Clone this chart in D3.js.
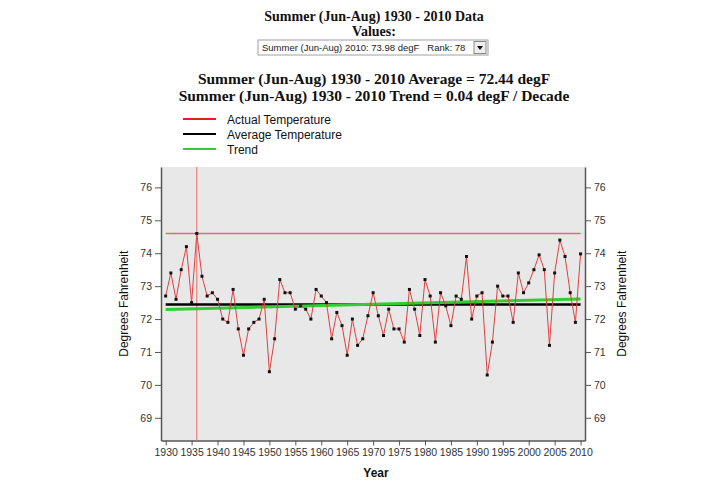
<!DOCTYPE html>
<html>
<head>
<meta charset="utf-8">
<script src="https://cdn.jsdelivr.net/npm/d3@7"></script>
<style>
  body { margin: 0; background: #fff; }
  svg text { font-family: "Liberation Sans", Arial, sans-serif; }
  .serif { font-family: "Liberation Serif", "DejaVu Serif", serif !important; font-weight: bold; fill: #111; }
</style>
</head>
<body>
<div id="chart"></div>
<script>
// Summer (Jun-Aug) mean temperature, degF
const years = d3.range(1930, 2011);
const temps = [
  72.7, 73.4, 72.6, 73.5, 74.2, 72.5, 74.6, 73.3, 72.7, 72.8,
  72.6, 72.0, 71.9, 72.9, 71.7, 70.9, 71.7, 71.9, 72.0, 72.6,
  70.4, 71.4, 73.2, 72.8, 72.8, 72.3, 72.4, 72.3, 72.0, 72.9,
  72.7, 72.5, 71.4, 72.2, 71.8, 70.9, 72.0, 71.2, 71.4, 72.1,
  72.8, 72.1, 71.5, 72.3, 71.7, 71.7, 71.3, 72.9, 72.3, 71.5,
  73.2, 72.7, 71.3, 72.8, 72.4, 71.8, 72.7, 72.6, 73.9, 72.0,
  72.7, 72.8, 70.3, 71.3, 73.0, 72.7, 72.7, 71.9, 73.4, 72.8,
  73.1, 73.5, 73.95, 73.5, 71.2, 73.4, 74.4, 73.9, 72.8, 71.9,
  73.98
];
const average = 72.44;
const trendEnds = [72.29, 72.61];   // trend line value at 1930 and 2010
const yTicks = [69, 70, 71, 72, 73, 74, 75, 76];
const xTicks = d3.range(1930, 2011, 5);
const legendItems = [
  { name: 'Actual Temperature', color: '#e02020' },
  { name: 'Average Temperature', color: '#000' },
  { name: 'Trend', color: '#33cc33' }
];

const W = 720, H = 486;
const plot = { left: 161, right: 585, top: 167, bottom: 440.5 };

const svg = d3.select('#chart').append('svg')
  .attr('width', W).attr('height', H);

// Titles
svg.append('text').attr('class', 'serif')
  .attr('x', 374).attr('y', 21).attr('text-anchor', 'middle')
  .style('font-size', '14px')
  .text('Summer (Jun-Aug) 1930 - 2010 Data');
svg.append('text').attr('class', 'serif')
  .attr('x', 374).attr('y', 36).attr('text-anchor', 'middle')
  .style('font-size', '14px')
  .text('Values:');

// Fake dropdown
const dd = svg.append('g').attr('transform', 'translate(258,40)');
dd.append('rect').attr('width', 230).attr('height', 15)
  .attr('fill', '#fff').attr('stroke', '#a0a0a0');
dd.append('text').attr('x', 4).attr('y', 11)
  .style('font-size', '9.5px').style('white-space', 'pre').attr('fill', '#222')
  .text('Summer (Jun-Aug) 2010: 73.98 degF   Rank: 78');
dd.append('rect').attr('x', 216).attr('y', 1.5).attr('width', 12).attr('height', 12)
  .attr('fill', '#eee').attr('stroke', '#888');
dd.append('path').attr('d', 'M219,6 L225,6 L222,10 Z').attr('fill', '#111');

svg.append('text').attr('class', 'serif')
  .attr('x', 374).attr('y', 84).attr('text-anchor', 'middle')
  .style('font-size', '15.5px')
  .text(`Summer (Jun-Aug) 1930 - 2010 Average = ${average} degF`);
svg.append('text').attr('class', 'serif')
  .attr('x', 374).attr('y', 101).attr('text-anchor', 'middle')
  .style('font-size', '15.5px')
  .text('Summer (Jun-Aug) 1930 - 2010 Trend = 0.04 degF / Decade');

// Legend
const legend = svg.append('g').attr('transform', 'translate(183,119)');
legendItems.forEach((d, i) => {
  const g = legend.append('g').attr('transform', `translate(0,${i * 15})`);
  g.append('line').attr('x1', 0).attr('x2', 33)
    .attr('stroke', d.color).attr('stroke-width', 2);
  g.append('text').attr('x', 44).attr('y', 4.5)
    .style('font-size', '12px').attr('fill', '#111')
    .text(d.name);
});

// Scales
const x = d3.scaleLinear().domain([1929.1, 2010.85]).range([plot.left, plot.right]);
const y = d3.scaleLinear().domain([68.31, 76.62]).range([plot.bottom, plot.top]);

svg.append('rect')
  .attr('x', plot.left).attr('y', plot.top)
  .attr('width', plot.right - plot.left).attr('height', plot.bottom - plot.top)
  .attr('fill', '#e8e8e8');

// Axes
function styleAxis(g) {
  g.select('.domain').attr('stroke', '#555').attr('stroke-width', 1.5);
  g.selectAll('.tick line').attr('stroke', '#555');
  g.selectAll('.tick text').attr('fill', '#333').style('font-size', '10.5px');
}

svg.append('g')
  .attr('transform', `translate(${plot.left},0)`)
  .call(d3.axisLeft(y).tickValues(yTicks).tickSize(6).tickSizeOuter(0).tickPadding(3))
  .call(styleAxis);

svg.append('g')
  .attr('transform', `translate(${plot.right},0)`)
  .call(d3.axisRight(y).tickValues(yTicks).tickSize(6).tickSizeOuter(0).tickPadding(3))
  .call(styleAxis);

svg.append('g')
  .attr('transform', `translate(0,${plot.bottom})`)
  .call(d3.axisBottom(x).tickValues(xTicks).tickFormat(d3.format('d'))
    .tickSize(5).tickSizeOuter(0).tickPadding(3))
  .call(styleAxis);

// Axis titles
svg.append('text')
  .attr('transform', `translate(128,${(plot.top + plot.bottom) / 2}) rotate(-90)`)
  .attr('text-anchor', 'middle').style('font-size', '12px').attr('fill', '#111')
  .text('Degrees Fahrenheit');
svg.append('text')
  .attr('transform', `translate(626,${(plot.top + plot.bottom) / 2}) rotate(-90)`)
  .attr('text-anchor', 'middle').style('font-size', '12px').attr('fill', '#111')
  .text('Degrees Fahrenheit');
svg.append('text')
  .attr('x', 376).attr('y', 477).attr('text-anchor', 'middle')
  .style('font-size', '12px').style('font-weight', 'bold').attr('fill', '#111')
  .text('Year');

// Max marker lines
const maxIdx = d3.maxIndex(temps);
svg.append('line')
  .attr('x1', x(years[maxIdx])).attr('x2', x(years[maxIdx]))
  .attr('y1', plot.top).attr('y2', plot.bottom)
  .attr('stroke', '#ec7c7c').attr('stroke-width', 1.2);
svg.append('line')
  .attr('x1', x(years[0])).attr('x2', x(years[years.length - 1]))
  .attr('y1', y(temps[maxIdx])).attr('y2', y(temps[maxIdx]))
  .attr('stroke', '#e86a6a').attr('stroke-width', 1.5);

// Average line
svg.append('line')
  .attr('x1', x(years[0])).attr('x2', x(years[years.length - 1]))
  .attr('y1', y(average)).attr('y2', y(average))
  .attr('stroke', '#000').attr('stroke-width', 2.5);

// Trend line
svg.append('line')
  .attr('x1', x(years[0])).attr('x2', x(years[years.length - 1]))
  .attr('y1', y(trendEnds[0])).attr('y2', y(trendEnds[1]))
  .attr('stroke', '#33cc33').attr('stroke-width', 3);

// Actual temperature
const line = d3.line().x((d, i) => x(years[i])).y(d => y(d));
svg.append('path')
  .datum(temps)
  .attr('d', line)
  .attr('fill', 'none')
  .attr('stroke', '#e04040')
  .attr('stroke-width', 1);

svg.selectAll('.pt')
  .data(temps)
  .enter().append('rect')
  .attr('class', 'pt')
  .attr('x', (d, i) => x(years[i]) - 1.5)
  .attr('y', d => y(d) - 1.5)
  .attr('width', 3).attr('height', 3)
  .attr('fill', '#111');
</script>
</body>
</html>
